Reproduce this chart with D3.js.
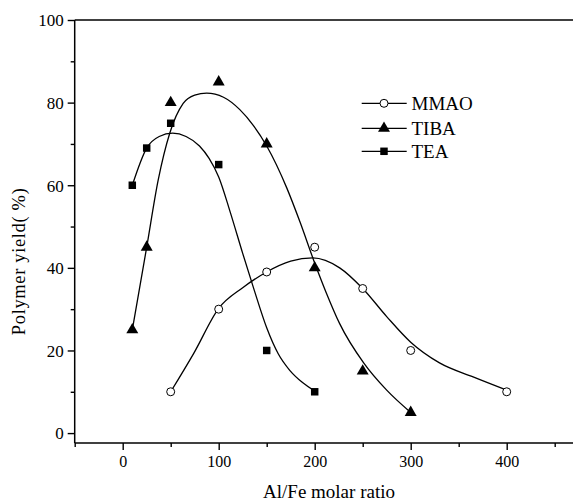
<!DOCTYPE html>
<html>
<head>
<meta charset="utf-8">
<script src="https://cdn.jsdelivr.net/npm/d3@7"></script>
<style>
  html, body { margin: 0; padding: 0; background: #fff; }
  svg { display: block; }
  text { font-family: "Liberation Serif", "DejaVu Serif", serif; fill: #000; }
</style>
</head>
<body>
<svg id="chart" width="573" height="502"></svg>
<script>
// Measured points (Al/Fe molar ratio vs polymer yield, %)
const mmaoX = [50, 100, 150, 200, 250, 300, 400];
const mmaoY = [10, 30, 39, 45, 35, 20, 10];
const tibaX = [10, 25, 50, 100, 150, 200, 250, 300];
const tibaY = [25, 45, 80, 85, 70, 40, 15, 5];
const teaX  = [10, 25, 50, 100, 150, 200];
const teaY  = [60, 69, 75, 65, 20, 10];

// Smoothed fit curves through each series
const mmaoFitX = [50, 74, 100, 125, 150, 175, 198, 226, 250, 275, 300, 330, 365, 400];
const mmaoFitY = [10, 19.3, 30.2, 35.2, 39, 41.6, 42.4, 40, 35, 28.2, 22, 17, 13.6, 10.4];
const tibaFitX = [10, 25, 37, 49, 63, 75, 87.5, 105, 122, 136, 150, 171, 185, 199, 212, 226, 251, 275, 300];
const tibaFitY = [25, 45, 61.3, 72.6, 79.8, 81.8, 82.3, 81.3, 78.3, 74.5, 69.5, 59.3, 50.9, 41.8, 34, 26.5, 17, 10.4, 5];
const teaFitX  = [10, 25, 38, 52, 66, 80, 90, 100, 112, 125, 137, 150, 162, 174, 187, 200];
const teaFitY  = [60, 69, 71.8, 72.6, 71.8, 69.5, 66.5, 62, 53.5, 43.5, 34.6, 25.5, 19.2, 15.2, 12.3, 10.2];

// Axis ticks
const xMajor = [0, 100, 200, 300, 400];
const xMinor = [-50, 50, 150, 250, 350, 450];
const yMajor = [0, 20, 40, 60, 80, 100];
const yMinor = [10, 30, 50, 70, 90];

const legendNames = ["MMAO", "TIBA", "TEA"];

const svg = d3.select("#chart");
const x = d3.scaleLinear().domain([-50, 470]).range([74.7, 573.9]);
const y = d3.scaleLinear().domain([-2.4, 100]).range([443, 20]);

const X0 = x(-50), XR = 600, YB = y(-2.4), YT = y(100);

// Axes
function styleAxis(g) {
  g.select(".domain").remove();
  g.selectAll("line").attr("stroke", "#000").attr("stroke-width", 1.4);
}

svg.append("g").attr("transform", `translate(0,${YB})`)
  .call(d3.axisBottom(x).tickValues(xMajor).tickSize(7).tickPadding(6).tickFormat(d3.format("d")))
  .call(styleAxis)
  .call(g => g.selectAll("text").attr("font-size", 16).attr("font-family", "Liberation Serif"));
svg.append("g").attr("transform", `translate(0,${YB})`)
  .call(d3.axisBottom(x).tickValues(xMinor).tickSize(4).tickFormat(""))
  .call(styleAxis);

svg.append("g").attr("transform", `translate(${X0},0)`)
  .call(d3.axisLeft(y).tickValues(yMajor).tickSize(7).tickPadding(4).tickFormat(d3.format("d")))
  .call(styleAxis)
  .call(g => g.selectAll("text").attr("font-size", 17).attr("font-family", "Liberation Serif").attr("dy", "0.34em"));
svg.append("g").attr("transform", `translate(${X0},0)`)
  .call(d3.axisLeft(y).tickValues(yMinor).tickSize(4).tickFormat(""))
  .call(styleAxis);

// Frame lines (left, bottom, top)
const frame = svg.append("g").attr("stroke", "#000").attr("stroke-width", 1.5).attr("fill", "none");
frame.append("line").attr("x1", X0).attr("x2", X0).attr("y1", YT).attr("y2", YB);
frame.append("line").attr("x1", X0).attr("x2", XR).attr("y1", YB).attr("y2", YB);
frame.append("line").attr("x1", X0).attr("x2", XR).attr("y1", YT).attr("y2", YT);

// Axis titles
svg.append("text").attr("x", 329).attr("y", 498).attr("text-anchor", "middle")
  .attr("font-size", 19).text("Al/Fe molar ratio");
svg.append("text").attr("transform", "translate(25,261.7) rotate(-90)").attr("text-anchor", "middle")
  .attr("font-size", 18.5).attr("textLength", 147).attr("lengthAdjust", "spacing")
  .text("Polymer yield( %)");

// Fit curves
const line = d3.line().x(d => x(d[0])).y(d => y(d[1])).curve(d3.curveMonotoneX);
const zip = (a, b) => a.map((v, i) => [v, b[i]]);
[[mmaoFitX, mmaoFitY], [tibaFitX, tibaFitY], [teaFitX, teaFitY]].forEach(([fx, fy]) => {
  svg.append("path").datum(zip(fx, fy)).attr("d", line)
    .attr("fill", "none").attr("stroke", "#000").attr("stroke-width", 1.3);
});

// Markers
const triangle = d3.symbol().type(d3.symbolTriangle).size(62);
const square = d3.symbol().type(d3.symbolSquare).size(56);

svg.append("g").selectAll("circle").data(zip(mmaoX, mmaoY)).join("circle")
  .attr("cx", d => x(d[0])).attr("cy", d => y(d[1])).attr("r", 4)
  .attr("fill", "#fff").attr("stroke", "#000").attr("stroke-width", 1);
svg.append("g").selectAll("path").data(zip(tibaX, tibaY)).join("path")
  .attr("d", triangle).attr("transform", d => `translate(${x(d[0])},${y(d[1])})`).attr("fill", "#000");
svg.append("g").selectAll("path").data(zip(teaX, teaY)).join("path")
  .attr("d", square).attr("transform", d => `translate(${x(d[0])},${y(d[1])})`).attr("fill", "#000");

// Legend
const legend = svg.append("g");
const lgY = [103.3, 128.3, 151.3];
legendNames.forEach((name, i) => {
  const g = legend.append("g").attr("transform", `translate(0,${lgY[i]})`);
  g.append("line").attr("x1", 361.7).attr("x2", 406.7).attr("y1", 0).attr("y2", 0)
    .attr("stroke", "#000").attr("stroke-width", 1.3);
  if (i === 0) {
    g.append("circle").attr("cx", 384).attr("cy", 0).attr("r", 4)
      .attr("fill", "#fff").attr("stroke", "#000").attr("stroke-width", 1);
  } else {
    g.append("path").attr("d", i === 1 ? triangle : square)
      .attr("transform", "translate(384,0)").attr("fill", "#000");
  }
  g.append("text").attr("x", 411.5).attr("y", 6.3).attr("font-size", 19).text(name);
});
</script>
</body>
</html>
